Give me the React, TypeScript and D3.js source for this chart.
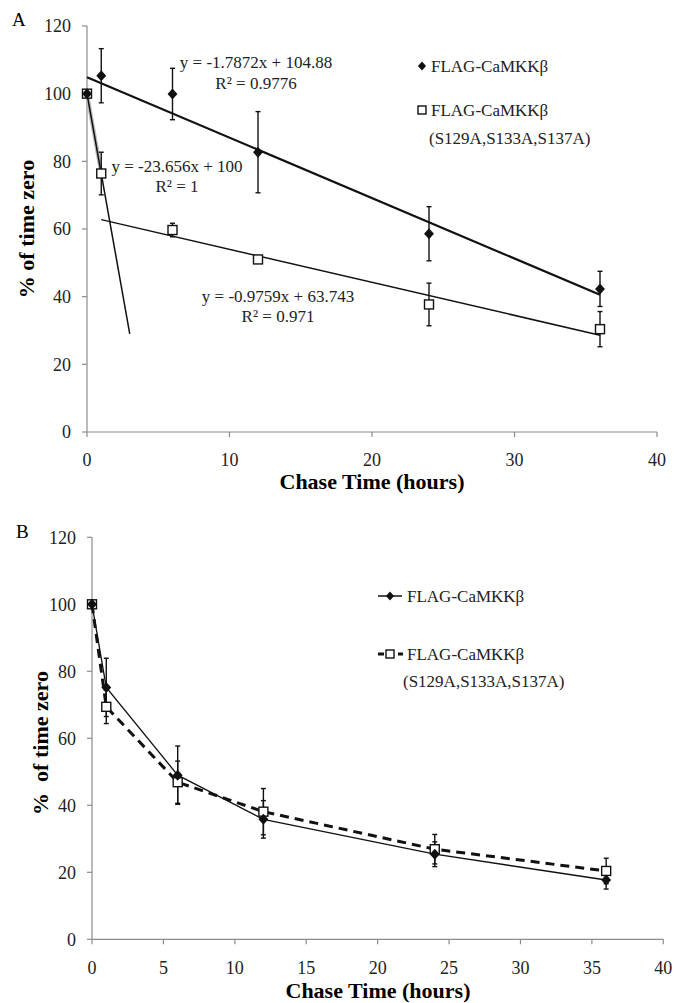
import React from 'react'
import * as d3 from 'd3'

const hours = [0, 1, 6, 12, 24, 36]

// panel A
const wtA = [100, 105.3, 99.9, 82.7, 58.6, 42.3]
const wtErrA = [0, 8, 7.6, 12, 8, 5.2]
const mutA = [100, 76.4, 59.7, 51, 37.7, 30.4]
const mutErrA = [0, 6.3, 2, 1, 6.3, 5.2]

// linear fits shown in panel A: [slope, intercept, xStart, xEnd]
const fitWt = [-1.7872, 104.88, 0, 36]
const fitMutFast = [-23.656, 100, 0, 3]
const fitMutSlow = [-0.9759, 63.743, 1, 36]
const fitLabels = [
  ['y = -1.7872x + 104.88', 'R² = 0.9776'],
  ['y = -23.656x + 100', 'R² = 1'],
  ['y = -0.9759x + 63.743', 'R² = 0.971'],
]

// panel B
const wtB = [100, 75.2, 49, 35.8, 25.4, 17.7]
const wtErrB = [0, 8.7, 8.7, 5.6, 3.7, 2.7]
const mutB = [100, 69.4, 46.9, 38.1, 26.9, 20.4]
const mutErrB = [0, 5, 6.3, 6.9, 4.4, 3.8]

const yTicks = [0, 20, 40, 60, 80, 100, 120]
const xTicksA = [0, 10, 20, 30, 40]
const xTicksB = [0, 5, 10, 15, 20, 25, 30, 35, 40]

const legendNames = ['FLAG-CaMKKβ', 'FLAG-CaMKKβ', '(S129A,S133A,S137A)']

const font = "'Liberation Serif', Tinos, 'Times New Roman', 'DejaVu Serif', serif"
const axisColor = '#8c8c8c'

const Diamond = ({ x, y, r = 5.5 }) => (
  <path d={`M${x},${y - r}L${x + r * 0.9},${y}L${x},${y + r}L${x - r * 0.9},${y}Z`} fill="#111" />
)
const Square = ({ x, y, s = 9 }) => (
  <rect x={x - s / 2} y={y - s / 2} width={s} height={s} fill="white" stroke="#111" strokeWidth={1.4} />
)

const ErrorBars = ({ xs, ys, errs, x, y }) => (
  <g stroke="#111" strokeWidth={1.4}>
    {xs.map((h, i) =>
      errs[i] > 0 ? (
        <g key={i}>
          <line x1={x(h)} x2={x(h)} y1={y(ys[i] - errs[i])} y2={y(ys[i] + errs[i])} />
          <line x1={x(h) - 2.5} x2={x(h) + 2.5} y1={y(ys[i] - errs[i])} y2={y(ys[i] - errs[i])} />
          <line x1={x(h) - 2.5} x2={x(h) + 2.5} y1={y(ys[i] + errs[i])} y2={y(ys[i] + errs[i])} />
        </g>
      ) : null
    )}
  </g>
)

const Axes = ({ x, y, xTicks, tickSize }) => {
  const [x0, x1] = x.range()
  const [y0, y1] = y.range()
  return (
    <g style={{ fontFamily: font }} fill="#222">
      <line x1={x0} x2={x0} y1={y0} y2={y1} stroke={axisColor} strokeWidth={1.2} />
      <line x1={x0} x2={x1} y1={y0} y2={y0} stroke={axisColor} strokeWidth={1.2} />
      {yTicks.map(t => (
        <g key={t}>
          <line x1={x0 - 5} x2={x0} y1={y(t)} y2={y(t)} stroke={axisColor} strokeWidth={1.2} />
          <text x={x0 - 16} y={y(t)} dy="0.35em" textAnchor="end" fontSize={tickSize}>{t}</text>
        </g>
      ))}
      {xTicks.map(t => (
        <g key={t}>
          <line x1={x(t)} x2={x(t)} y1={y0} y2={y0 + 5} stroke={axisColor} strokeWidth={1.2} />
          <text x={x(t)} y={y0 + 28} dy="0.35em" textAnchor="middle" fontSize={tickSize}>{t}</text>
        </g>
      ))}
    </g>
  )
}

const PanelA = () => {
  const x = d3.scaleLinear().domain([0, 40]).range([87, 657])
  const y = d3.scaleLinear().domain([0, 120]).range([432, 26])
  const fitLine = ([m, b, a, e]) =>
    d3.line()([[x(a), y(m * a + b)], [x(e), y(m * e + b)]])
  const grey = d3.line()([[x(hours[0]), y(mutA[0])], [x(hours[1]), y(mutA[1])]])
  return (
    <g>
      <text x={12} y={26} style={{ fontFamily: font }} fontSize={19}>A</text>
      <Axes x={x} y={y} xTicks={xTicksA} tickSize={18} />
      <path d={grey} stroke="#bbb" strokeWidth={4} fill="none" />
      <path d={fitLine(fitWt)} stroke="#111" strokeWidth={2.2} fill="none" />
      <path d={fitLine(fitMutFast)} stroke="#111" strokeWidth={1.5} fill="none" />
      <path d={fitLine(fitMutSlow)} stroke="#111" strokeWidth={1.5} fill="none" />
      <ErrorBars xs={hours} ys={wtA} errs={wtErrA} x={x} y={y} />
      <ErrorBars xs={hours} ys={mutA} errs={mutErrA} x={x} y={y} />
      {hours.map((h, i) => <Square key={'s' + i} x={x(h)} y={y(mutA[i])} />)}
      {hours.map((h, i) => <Diamond key={'d' + i} x={x(h)} y={y(wtA[i])} />)}
      <g style={{ fontFamily: font }} fontSize={17} fill="#222" textAnchor="middle">
        <text x={256} y={68}>{fitLabels[0][0]}</text>
        <text x={256} y={89}>{fitLabels[0][1]}</text>
        <text x={177} y={172}>{fitLabels[1][0]}</text>
        <text x={177} y={192}>{fitLabels[1][1]}</text>
        <text x={278} y={302}>{fitLabels[2][0]}</text>
        <text x={278} y={322}>{fitLabels[2][1]}</text>
      </g>
      <g style={{ fontFamily: font }} fontSize={17} fill="#222">
        <Diamond x={422} y={66} r={4.5} />
        <text x={431} y={66} dy="0.35em">{legendNames[0]}</text>
        <Square x={422} y={110} s={8} />
        <text x={431} y={110} dy="0.35em">{legendNames[1]}</text>
        <text x={429} y={138} dy="0.35em">{legendNames[2]}</text>
      </g>
      <text x={372} y={489} textAnchor="middle" style={{ fontFamily: font }} fontSize={22} fontWeight="bold">Chase Time (hours)</text>
      <text transform={`translate(34,229) rotate(-90)`} textAnchor="middle" style={{ fontFamily: font }} fontSize={22} fontWeight="bold">% of time zero</text>
    </g>
  )
}

const PanelB = () => {
  const x = d3.scaleLinear().domain([0, 40]).range([92, 663.3])
  const y = d3.scaleLinear().domain([0, 120]).range([939.3, 537.3])
  const line = d3.line().x(d => x(d[0])).y(d => y(d[1]))
  const wtPts = hours.map((h, i) => [h, wtB[i]])
  const mutPts = hours.map((h, i) => [h, mutB[i]])
  return (
    <g>
      <text x={16} y={538} style={{ fontFamily: font }} fontSize={19}>B</text>
      <Axes x={x} y={y} xTicks={xTicksB} tickSize={18} />
      <path d={line(mutPts)} stroke="#111" strokeWidth={3} strokeDasharray="9,6" fill="none" />
      <path d={line(wtPts)} stroke="#111" strokeWidth={1.3} fill="none" />
      <ErrorBars xs={hours} ys={mutB} errs={mutErrB} x={x} y={y} />
      <ErrorBars xs={hours} ys={wtB} errs={wtErrB} x={x} y={y} />
      {hours.map((h, i) => <Square key={'s' + i} x={x(h)} y={y(mutB[i])} />)}
      {hours.map((h, i) => <Diamond key={'d' + i} x={x(h)} y={y(wtB[i])} />)}
      <g style={{ fontFamily: font }} fontSize={17} fill="#222">
        <line x1={378} x2={402} y1={596} y2={596} stroke="#111" strokeWidth={1.5} />
        <Diamond x={390} y={596} r={4.5} />
        <text x={407} y={596} dy="0.35em">{legendNames[0]}</text>
        <line x1={378} x2={403} y1={654} y2={654} stroke="#111" strokeWidth={3} strokeDasharray="6,4" />
        <Square x={390} y={654} s={8} />
        <text x={407} y={654} dy="0.35em">{legendNames[1]}</text>
        <text x={403} y={681} dy="0.35em">{legendNames[2]}</text>
      </g>
      <text x={378} y={998} textAnchor="middle" style={{ fontFamily: font }} fontSize={22} fontWeight="bold">Chase Time (hours)</text>
      <text transform={`translate(48,743) rotate(-90)`} textAnchor="middle" style={{ fontFamily: font, whiteSpace: 'pre' }} fontSize={22} fontWeight="bold">{'%  of time zero'}</text>
    </g>
  )
}

export default function App() {
  return (
    <svg width={676} height={1003} style={{ position: 'absolute', left: 0, top: 0, background: 'white' }}>
      <rect width={676} height={1003} fill="white" />
      <PanelA />
      <PanelB />
    </svg>
  )
}
